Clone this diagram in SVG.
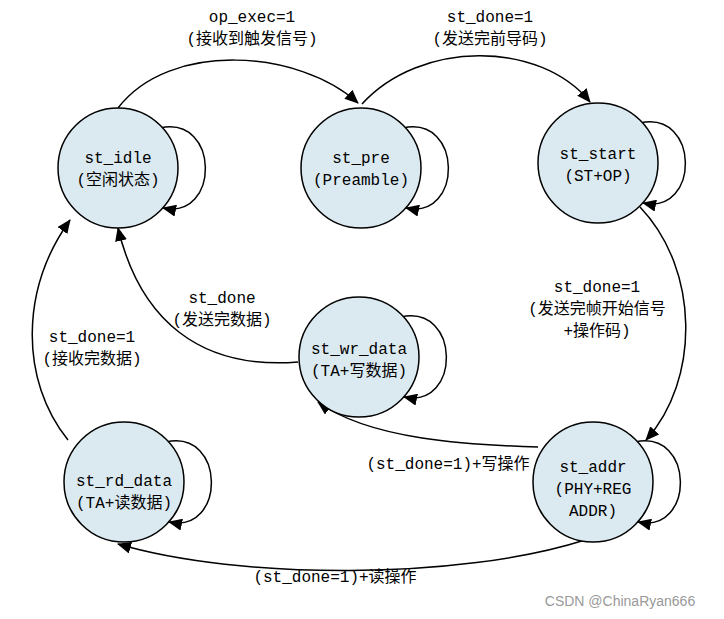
<svg xmlns="http://www.w3.org/2000/svg" width="724" height="619" viewBox="0 0 724 619">
<defs>
<marker id="ah" markerWidth="14" markerHeight="12" refX="13" refY="6" orient="auto" markerUnits="userSpaceOnUse"><path d="M0,0 L14,6 L0,12 z" fill="#000"/></marker>
<style>
.n{fill:#dbeaf1;stroke:#000;stroke-width:1.5}
.c{fill:none;stroke:#000;stroke-width:1.5;marker-end:url(#ah)}
text{font-family:"Liberation Mono","Noto Sans CJK SC",monospace;font-size:16px;text-anchor:middle;fill:#000}
.w{font-family:"Liberation Sans",sans-serif;font-size:14px;fill:#999}
</style>
</defs>
<rect width="724" height="619" fill="#fff"/>
<g id="connectors">
<path class="c" d="M118,108 C170,40 300,50 358,103"/>
<path class="c" d="M362,104 C420,40 540,40 590,102"/>
<path class="c" d="M640,207 C700,270 700,380 646,440"/>
<path class="c" d="M538,447 C470,445 370,440 318,402"/>
<path class="c" d="M298,362 C200,370 140,320 118,228"/>
<path class="c" d="M68,440 C20,380 20,290 70,220"/>
<path class="c" d="M585,540 C460,580 240,580 118,544"/>
<path class="c" d="M160,128 C220,115 220,220 163,208"/>
<path class="c" d="M403,128 C463,115 463,220 406,208"/>
<path class="c" d="M640,123 C700,110 700,215 643,203"/>
<path class="c" d="M401,317 C461,304 461,409 404,397"/>
<path class="c" d="M166,442 C226,429 226,534 169,522"/>
<path class="c" d="M635,442 C695,429 695,534 638,522"/>
<text x="252" y="22">op_exec=1</text><text x="252" y="44">(接收到触发信号)</text>
<text x="490" y="22">st_done=1</text><text x="490" y="44">(发送完前导码)</text>
<text x="597" y="292">st_done=1</text><text x="597" y="314">(发送完帧开始信号</text><text x="597" y="336">+操作码)</text>
<text x="448" y="469">(st_done=1)+写操作</text>
<text x="222" y="303">st_done</text><text x="222" y="325">(发送完数据)</text>
<text x="92" y="342">st_done=1</text><text x="92" y="364">(接收完数据)</text>
<text x="335" y="582">(st_done=1)+读操作</text>
</g>
<g id="st_idle"><circle class="n" cx="118" cy="168" r="60"/><text x="118" y="163">st_idle</text><text x="118" y="185">(空闲状态)</text></g>
<g id="st_pre"><circle class="n" cx="361" cy="168" r="60"/><text x="361" y="163">st_pre</text><text x="361" y="185">(Preamble)</text></g>
<g id="st_start"><circle class="n" cx="598" cy="163" r="60"/><text x="598" y="159">st_start</text><text x="598" y="181">(ST+OP)</text></g>
<g id="st_wr_data"><circle class="n" cx="359" cy="357" r="60"/><text x="359" y="354">st_wr_data</text><text x="359" y="376">(TA+写数据)</text></g>
<g id="st_rd_data"><circle class="n" cx="124" cy="482" r="60"/><text x="124" y="486">st_rd_data</text><text x="124" y="508">(TA+读数据)</text></g>
<g id="st_addr"><circle class="n" cx="593" cy="482" r="60"/><text x="593" y="472">st_addr</text><text x="593" y="494">(PHY+REG</text><text x="593" y="516">ADDR)</text></g>
<text class="w" x="620" y="606">CSDN @ChinaRyan666</text>
</svg>
